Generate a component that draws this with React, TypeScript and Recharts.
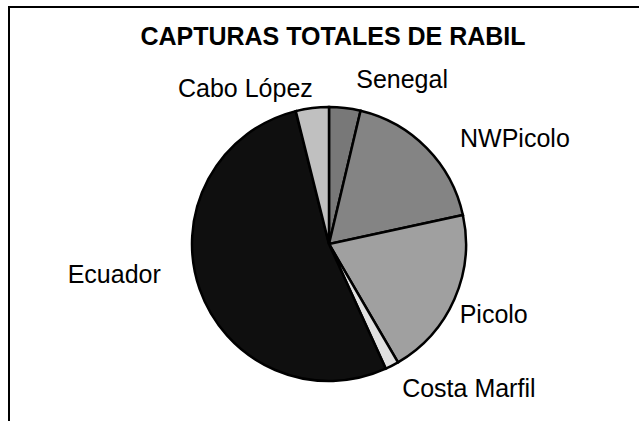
import { PieChart, Pie, Cell } from "recharts"

const zonas = ["Senegal", "NWPicolo", "Picolo", "Costa Marfil", "Ecuador", "Cabo López"]
const capturas = [3.7, 17.9, 20.0, 1.6, 52.9, 3.9]
const grises = ["#787878", "#848484", "#a0a0a0", "#e0e0e0", "#0f0f0f", "#c0c0c0"]

// Excel had the labels dragged around by hand, so nudge them from the radial spot
const labelNudge: Record<string, [number, number]> = {
  Senegal: [9, 0],
  NWPicolo: [19, 13],
  Picolo: [-13, 16],
  "Costa Marfil": [1, 14],
  Ecuador: [-20, -13],
  "Cabo López": [3, 9],
}

const data = zonas.map((name, i) => ({ name, value: capturas[i] }))

const RAD = Math.PI / 180
const FONT = "'Liberation Sans', Arial, sans-serif"

const renderLabel = (props: any) => {
  const { cx, cy, midAngle, outerRadius, name } = props
  const r = outerRadius + 20
  const x = cx + r * Math.cos(-midAngle * RAD)
  const y = cy + r * Math.sin(-midAngle * RAD)
  const [dx, dy] = labelNudge[name] || [0, 0]
  return (
    <text
      x={x + dx}
      y={y + dy}
      textAnchor={x > cx ? "start" : "end"}
      fill="#000"
      fontSize={25}
      fontFamily={FONT}
    >
      {name}
    </text>
  )
}

export default function App() {
  return (
    <div style={{ position: "absolute", left: 0, top: 0, background: "#fff" }}>
      <PieChart width={639} height={421} margin={{ top: 0, right: 0, bottom: 0, left: 0 }}>
        {/* frame: only top and left edges show in the crop */}
        <line x1={8} y1={7} x2={639} y2={7} stroke="#000" strokeWidth={2} />
        <line x1={9} y1={6} x2={9} y2={421} stroke="#000" strokeWidth={2} />
        <text x={333} y={45} textAnchor="middle" fontSize={25} fontWeight="bold" fontFamily={FONT} fill="#000">
          CAPTURAS TOTALES DE RABIL
        </text>
        <Pie
          data={data}
          dataKey="value"
          nameKey="name"
          cx={329}
          cy={244}
          outerRadius={137}
          startAngle={90}
          endAngle={-270}
          label={renderLabel}
          labelLine={false}
          isAnimationActive={false}
        >
          {data.map((entry, index) => (
            <Cell key={`cell-${index}`} fill={grises[index]} stroke="#000" strokeWidth={2.5} />
          ))}
        </Pie>
      </PieChart>
    </div>
  )
}
